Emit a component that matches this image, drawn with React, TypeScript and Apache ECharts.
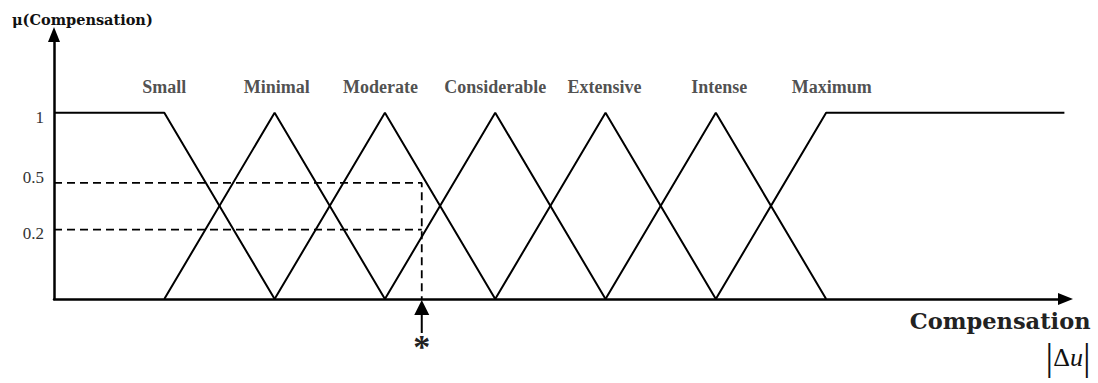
import React, { useEffect, useRef } from "react";
import * as echarts from "echarts";

const categories = ["Small", "Minimal", "Moderate", "Considerable", "Extensive", "Intense", "Maximum"];
const smallPoints = [[0, 1], [1, 1], [2, 0]];
const minimalPoints = [[1, 0], [2, 1], [3, 0]];
const moderatePoints = [[2, 0], [3, 1], [4, 0]];
const considerablePoints = [[3, 0], [4, 1], [5, 0]];
const extensivePoints = [[4, 0], [5, 1], [6, 0]];
const intensePoints = [[5, 0], [6, 1], [7, 0]];
const maximumPoints = [[6, 0], [7, 1], [9.16, 1]];
const categoryLabelX = [1.0, 2.02, 2.96, 4.0, 4.99, 6.03, 7.05];
const categoryLabelLevel = 1.14;
const yTickValues = [1, 0.623, 0.372];
const yTickLabels = ["1", "0.5", "0.2"];
const crispInput = 3.334;
const xMax = 9.17;
const yMax = 1.42;

const membershipSets = [smallPoints, minimalPoints, moderatePoints, considerablePoints, extensivePoints, intensePoints, maximumPoints];

const labelShift = ["dn", "up", "dn2"];

export default function App() {
  const ref = useRef<HTMLDivElement>(null);
  useEffect(() => {
    const chart = echarts.init(ref.current!, null, { renderer: "svg" });
    const lineSeries = membershipSets.map((pts, i) => ({
      type: "line",
      name: categories[i],
      data: pts,
      symbol: "none",
      silent: true,
      lineStyle: { color: "#000", width: 2 },
    }));
    const option: any = {
      animation: false,
      backgroundColor: "#fff",
      title: {
        text: "μ(Compensation)",
        left: 7,
        top: 7,
        textStyle: { fontFamily: "DejaVu Serif", fontWeight: "bold", fontSize: 14.5, color: "#111" },
      },
      grid: { left: 54, right: 32.5, top: 34.5, bottom: 84 },
      xAxis: {
        type: "value",
        min: 0,
        max: xMax,
        splitLine: { show: false },
        axisTick: { show: false },
        axisLabel: { show: false },
        axisLine: { lineStyle: { color: "#000", width: 2.5 }, symbol: ["none", "triangle"], symbolSize: [12, 15] },
        name: "{c|Compensation}\n{bar|\u007C}{d|\u0394}{u|u}{bar|\u007C}",
        nameLocation: "end",
        nameGap: 25,
        nameTextStyle: {
          align: "right",
          verticalAlign: "top",
          padding: [6, 0, 0, 0],
          rich: {
            c: { fontFamily: "DejaVu Serif", fontWeight: "bold", fontSize: 22.5, color: "#222", lineHeight: 32, align: "right" },
            bar: { fontFamily: "Liberation Serif", fontSize: 38, color: "#111", lineHeight: 40, align: "right" },
            d: { fontFamily: "Liberation Serif", fontSize: 26, color: "#111", lineHeight: 40, align: "right" },
            u: { fontFamily: "Liberation Serif", fontStyle: "italic", fontSize: 26, color: "#111", lineHeight: 40, align: "right" },
          },
        },
      },
      yAxis: {
        type: "value",
        min: 0,
        max: yMax,
        splitLine: { show: false },
        axisTick: { show: false },
        axisLine: { lineStyle: { color: "#000", width: 2.5 }, symbol: ["none", "triangle"], symbolSize: [12, 15] },
        axisLabel: {
          customValues: yTickValues,
          margin: 10,
          formatter: (v: number) => {
            let idx = 0;
            yTickValues.forEach((t, i) => {
              if (Math.abs(t - v) < Math.abs(yTickValues[idx] - v)) idx = i;
            });
            return "{" + labelShift[idx] + "|" + yTickLabels[idx] + "}";
          },
          rich: {
            dn: { fontFamily: "Liberation Serif", fontSize: 17, color: "#333", padding: [10, 0, 0, 0] },
            up: { fontFamily: "Liberation Serif", fontSize: 17, color: "#333", padding: [0, 0, 10, 0] },
            dn2: { fontFamily: "Liberation Serif", fontSize: 17, color: "#333", padding: [8, 0, 0, 0] },
          },
        },
      },
      series: [
        ...lineSeries,
        {
          type: "line",
          data: [[0, yTickValues[1]], [crispInput, yTickValues[1]], [crispInput, 0]],
          symbol: "none",
          silent: true,
          lineStyle: { color: "#000", width: 1.8, type: [8, 5] },
        },
        {
          type: "line",
          data: [[0, yTickValues[2]], [crispInput, yTickValues[2]]],
          symbol: "none",
          silent: true,
          lineStyle: { color: "#000", width: 1.8, type: [8, 5] },
        },
        {
          type: "scatter",
          data: categoryLabelX.map((x) => [x, categoryLabelLevel]),
          symbolSize: 0,
          silent: true,
          label: {
            show: true,
            position: "inside",
            formatter: (p: any) => categories[p.dataIndex],
            fontFamily: "Liberation Serif",
            fontWeight: "bold",
            fontSize: 18,
            color: "#222",
          },
        },
      ],
    };
    chart.setOption(option);
    const p = chart.convertToPixel({ gridIndex: 0 }, [crispInput, 0]) as number[];
    const bx = p[0];
    const by = p[1];
    chart.setOption({
      graphic: [
        {
          type: "polygon",
          silent: true,
          shape: { points: [[bx, by + 1], [bx - 7.5, by + 16], [bx + 7.5, by + 16]] },
          style: { fill: "#000" },
        },
        {
          type: "line",
          silent: true,
          shape: { x1: bx, y1: by + 15, x2: bx, y2: by + 34 },
          style: { stroke: "#000", lineWidth: 2 },
        },
        {
          type: "text",
          silent: true,
          x: bx,
          y: by + 30,
          style: { text: "*", fontFamily: "Liberation Serif", fontWeight: "bold", fontSize: 34, fill: "#222", align: "center", verticalAlign: "top" },
        },
      ],
    });
    return () => chart.dispose();
  }, []);
  return <div ref={ref} style={{ position: "fixed", left: 0, top: 0, width: 1098, height: 383, background: "#fff" }} />;
}
